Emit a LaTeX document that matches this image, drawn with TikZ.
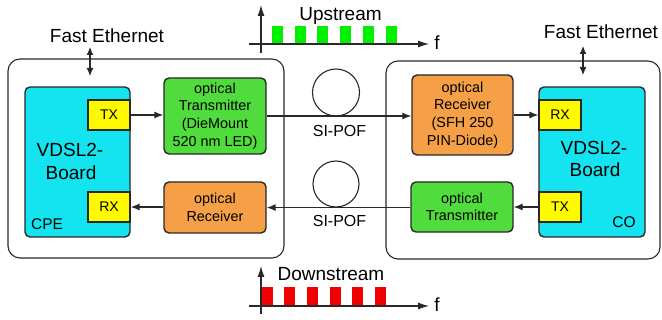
\documentclass[tikz,border=0pt]{standalone}
\usepackage{fontspec}
\setmainfont{Liberation Sans}
\usetikzlibrary{arrows.meta}
\definecolor{boardcyan}{RGB}{20,228,240}
\definecolor{txgreen}{RGB}{80,220,60}
\definecolor{rxorange}{RGB}{245,160,70}
\definecolor{portyellow}{RGB}{255,250,0}
\definecolor{specgreen}{RGB}{0,240,0}
\definecolor{specred}{RGB}{240,0,0}
\definecolor{edge}{RGB}{40,40,40}
\tikzset{
  outerbox/.style={draw=edge, line width=1.1pt, rounded corners=12pt, inner sep=0pt},
  board/.style={draw=edge, fill=boardcyan, line width=1.4pt, rounded corners=5pt, inner sep=0pt},
  port/.style={draw=edge, fill=portyellow, line width=1.2pt, inner sep=0pt, font=\fontsize{14}{16}\selectfont},
  optbox/.style={draw=edge, line width=1.4pt, rounded corners=5pt, inner sep=0pt, align=center, font=\fontsize{14.4}{17.7}\selectfont},
  fiberloop/.style={draw=edge, circle, line width=1.1pt, inner sep=0pt},
  arr/.style={draw=edge, line width=1.1pt, -{Latex[length=9pt,width=7pt]}},
  darr/.style={draw=edge, line width=1.1pt, {Latex[length=8pt,width=7pt]}-{Latex[length=8pt,width=7pt]}},
  axis/.style={draw=edge, line width=1.1pt, -{Latex[length=11pt,width=7pt]}},
  lbl/.style={inner sep=0pt, anchor=base},
  big/.style={font=\fontsize{19}{23}\selectfont},
}
\begin{document}
\begin{tikzpicture}[x=1pt,y=-1pt]
\useasboundingbox (0,0) rectangle (662,320);

% outer enclosures
\node[outerbox, minimum width=276pt, minimum height=199pt] (cpe) at (146,158.5) {};
\node[outerbox, minimum width=274pt, minimum height=198pt] (co) at (523,160) {};

% VDSL2 boards
\node[board, minimum width=105pt, minimum height=150pt] (boardL) at (77.5,162) {};
\node[board, minimum width=106pt, minimum height=150pt] (boardR) at (592,162) {};

% ports
\node[port, minimum width=42pt, minimum height=30pt] (txL) at (109,115) {TX};
\node[port, minimum width=42pt, minimum height=30pt] (rxL) at (109,207) {RX};
\node[port, minimum width=42pt, minimum height=30pt] (rxR) at (560,115) {RX};
\node[port, minimum width=42pt, minimum height=30pt] (txR) at (560,207) {TX};

% optical boxes
\node[optbox, fill=txgreen, minimum width=102pt, minimum height=76pt] (optTxL) at (215,116) {optical\\Transmitter\\(DieMount\\520 nm LED)};
\node[optbox, fill=rxorange, minimum width=102pt, minimum height=51pt] (optRxL) at (215,207.5) {optical\\Receiver};
\node[optbox, fill=rxorange, minimum width=101pt, minimum height=80pt] (optRxR) at (462.5,115) {optical\\Receiver\\(SFH 250\\PIN-Diode)};
\node[optbox, fill=txgreen, minimum width=102pt, minimum height=50pt] (optTxR) at (462,207) {optical\\Transmitter};

% fiber loops
\node[fiberloop, minimum size=47pt] (loopU) at (336,92.5) {};
\node[fiberloop, minimum size=46pt] (loopD) at (336,184) {};

% board texts
\node[lbl, big] (vdslL1) at (70,157) {VDSL2-};
\node[lbl, big] (vdslL2) at (71,180) {Board};
\node[lbl, big] (vdslR1) at (594,155) {VDSL2-};
\node[lbl, big] (vdslR2) at (595,177) {Board};
\node[lbl, font=\fontsize{15.5}{18}\selectfont] (cpeT) at (47,230) {CPE};
\node[lbl, font=\fontsize{15.5}{18}\selectfont] (coT) at (624,228) {CO};

% Fast Ethernet
\node[lbl, big] (feL) at (107,43) {Fast Ethernet};
\node[lbl, big] (feR) at (601,39) {Fast Ethernet};
\coordinate (feLa) at (90,47);
\coordinate (feLb) at (90,76);
\coordinate (feRa) at (583,46);
\coordinate (feRb) at (583,75);
\draw[darr] (feLa) -- (feLb);
\draw[darr] (feRa) -- (feRb);

% upstream links
\draw[arr] (txL.east) -- (txL.east -| optTxL.west);
\draw[arr] (optTxL.east) -- (optTxL.east -| optRxR.west);
\draw[arr] (optRxR.east |- rxR.west) -- (rxR.west);
% downstream links
\draw[arr] (txR.west) -- (txR.west -| optTxR.east);
\draw[arr] (optTxR.west |- loopD.south) -- (loopD.south -| optRxL.east);
\draw[arr] (optRxL.west |- rxL.east) -- (rxL.east);

% SI-POF labels
\node[lbl, font=\fontsize{16}{19}\selectfont] (pofU) at (339.5,136.5) {SI-POF};
\node[lbl, font=\fontsize{16}{19}\selectfont] (pofD) at (339.5,226.5) {SI-POF};

% upstream spectrum
\coordinate (uy0) at (261,53);
\coordinate (uy1) at (261,5);
\coordinate (ux0) at (249,44);
\coordinate (ux1) at (429,44);
\foreach \x in {272,294.5,317,340,363,386}
  \fill[specgreen] (\x,26) rectangle ++(11,18);
\draw[axis] (uy0) -- (uy1);
\draw[axis] (ux0) -- (ux1);
\node[lbl, big] (upT) at (340.5,21) {Upstream};
\node[lbl, big] (upF) at (437,50) {f};

% downstream spectrum
\coordinate (dy0) at (261,314);
\coordinate (dy1) at (261,266);
\coordinate (dx0) at (249,306);
\coordinate (dx1) at (429,306);
\foreach \x in {262,284,307,329.5,352,375}
  \fill[specred] (\x,287) rectangle ++(11,19);
\draw[axis] (dy0) -- (dy1);
\draw[axis] (dx0) -- (dx1);
\node[lbl, big] (downT) at (331,281) {Downstream};
\node[lbl, big] (downF) at (437,312) {f};
\end{tikzpicture}
\end{document}
